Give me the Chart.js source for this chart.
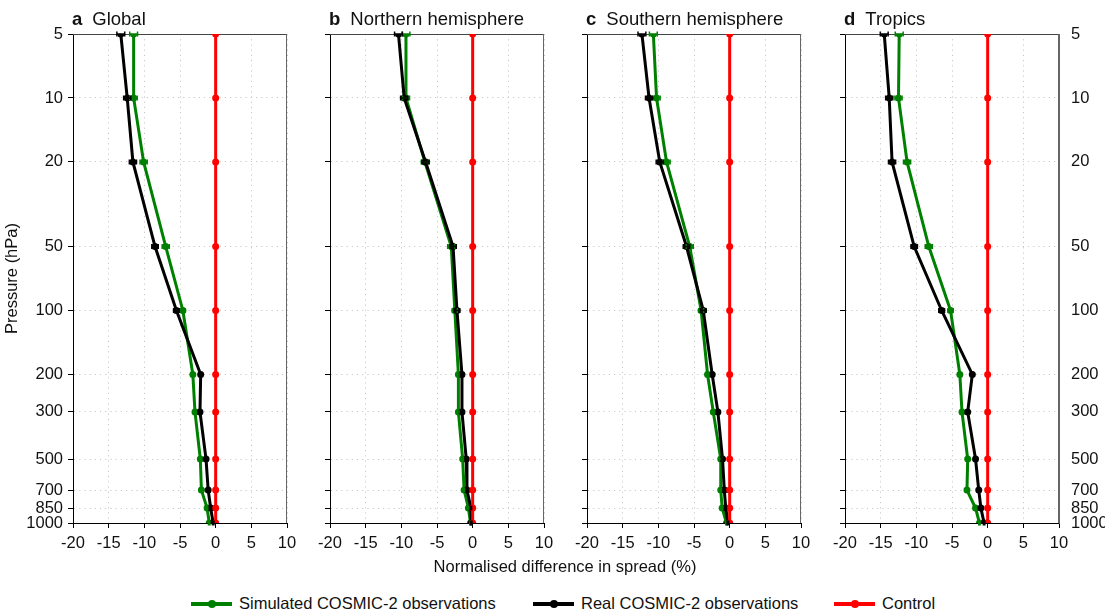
<!DOCTYPE html>
<html>
<head>
<meta charset="utf-8">
<script src="https://cdn.jsdelivr.net/npm/chart.js@4.4.0/dist/chart.umd.min.js"></script>
<style>
  body { margin: 0; background: #fff; }
  #fig { position: relative; width: 1105px; height: 611px; overflow: hidden;
         font-family: "Liberation Sans", Arial, Helvetica, sans-serif; color: #111; }
  #fig canvas { position: absolute; top: 0; }
  .ptitle { position: absolute; top: 9px; font-size: 18.5px; line-height: 19px; white-space: nowrap; }
  .ptitle b { margin-right: 10px; }
  #xtitle { position: absolute; top: 558px; left: 565px; transform: translateX(-50%);
            font-size: 16.5px; line-height: 17px; white-space: nowrap; }
  .leg { position: absolute; top: 595px; font-size: 16.5px; line-height: 17px; white-space: nowrap; }
  .leg .sw { display: inline-block; position: relative; width: 41px; height: 4px;
             vertical-align: middle; margin-right: 7px; top: -1px; }
  .leg .sw i { position: absolute; left: 17px; top: -2px; width: 8px; height: 8px; border-radius: 50%; }
</style>
</head>
<body>
<div id="fig"></div>
<script>
// pressure levels (hPa) and x ticks
var levels = [5, 10, 20, 50, 100, 200, 300, 500, 700, 850, 1000];
var xTicks = [-20, -15, -10, -5, 0, 5, 10];

var panelLetters = ['a', 'b', 'c', 'd'];
var panelNames = ['Global', 'Northern hemisphere', 'Southern hemisphere', 'Tropics'];
var seriesNames = ['Simulated COSMIC-2 observations', 'Real COSMIC-2 observations', 'Control'];

// normalised difference in spread (%), one value per level
var simGlobal   = [-11.5, -11.5, -10.1, -7.0, -4.6, -3.2, -2.9, -2.15, -2.0, -1.2, -0.9];
var realGlobal  = [-13.3, -12.4, -11.6, -8.5, -5.5, -2.1, -2.2, -1.35, -1.05, -0.7, -0.35];
var simNorth    = [-9.35, -9.35, -6.7, -3.0, -2.5, -2.0, -2.0, -1.4, -1.2, -0.6, -0.3];
var realNorth   = [-10.4, -9.6, -6.6, -2.75, -2.2, -1.5, -1.5, -0.9, -0.8, -0.25, -0.2];
var simSouth    = [-10.7, -10.25, -8.85, -5.6, -4.0, -3.1, -2.3, -1.25, -1.25, -1.05, -0.45];
var realSouth   = [-12.3, -11.3, -9.8, -6.05, -3.7, -2.45, -1.65, -1.0, -0.75, -0.55, -0.25];
var simTropics  = [-12.4, -12.5, -11.3, -8.25, -5.2, -3.9, -3.6, -2.8, -2.9, -1.7, -1.15];
var realTropics = [-14.5, -13.8, -13.4, -10.3, -6.45, -2.15, -2.8, -1.7, -1.25, -0.95, -0.5];
var control     = [0, 0, 0, 0, 0, 0, 0, 0, 0, 0, 0];

// half-width of the error whiskers
var simErr  = [0.55, 0.5, 0.5, 0.5, 0.35, 0.2, 0.2, 0.15, 0.1, 0.1, 0.1];
var realErr = [0.55, 0.5, 0.5, 0.45, 0.4, 0.2, 0.2, 0.15, 0.1, 0.1, 0.1];

var sims = [simGlobal, simNorth, simSouth, simTropics];
var reals = [realGlobal, realNorth, realSouth, realTropics];

var GREEN = '#008000', BLACK = '#000000', RED = '#ff0000';
var FONT = '"Liberation Sans", Arial, Helvetica, sans-serif';

// layout of the four panels
var plotLeft = [73, 330, 587, 845];
var plotW = 214, plotTop = 34, plotBottom = 523, canvasH = 565;

var fig = document.getElementById('fig');

var framePlugin = {
  id: 'frame',
  beforeDatasetsDraw: function (chart) {
    var a = chart.chartArea, ctx = chart.ctx;
    ctx.save();
    ctx.lineWidth = 1;
    ctx.strokeStyle = '#444';
    ctx.beginPath(); ctx.moveTo(a.left, a.top + 0.5); ctx.lineTo(a.right, a.top + 0.5); ctx.stroke();
    ctx.strokeStyle = '#666';
    ctx.beginPath(); ctx.moveTo(a.right - 0.5, a.top); ctx.lineTo(a.right - 0.5, a.bottom); ctx.stroke();
    ctx.restore();
  }
};

var errPlugin = {
  id: 'errbars',
  afterDatasetsDraw: function (chart) {
    var ctx = chart.ctx, xs = chart.scales.x, ys = chart.scales.y;
    chart.data.datasets.forEach(function (ds) {
      if (!ds.errs) return;
      ctx.save();
      ctx.strokeStyle = ds.borderColor;
      ctx.lineWidth = 1.5;
      ds.data.forEach(function (p, j) {
        var x1 = xs.getPixelForValue(p.x - ds.errs[j]);
        var x2 = xs.getPixelForValue(p.x + ds.errs[j]);
        var y = ys.getPixelForValue(p.y);
        ctx.beginPath();
        ctx.moveTo(x1, y); ctx.lineTo(x2, y);
        ctx.moveTo(x1, y - 2.5); ctx.lineTo(x1, y + 2.5);
        ctx.moveTo(x2, y - 2.5); ctx.lineTo(x2, y + 2.5);
        ctx.stroke();
      });
      ctx.restore();
    });
  }
};

function series(label, vals, errs, color, order) {
  return {
    label: label,
    data: vals.map(function (v, j) { return { x: v, y: levels[j] }; }),
    errs: errs,
    borderColor: color,
    backgroundColor: color,
    borderWidth: 3,
    pointRadius: 3.5,
    pointBorderWidth: 0,
    pointBackgroundColor: color,
    tension: 0,
    order: order
  };
}

function logTicks(s) { s.ticks = levels.map(function (v) { return { value: v }; }); }

for (var i = 0; i < 4; i++) {
  var leftW = i === 0 ? 73 : 30;
  var rightW = i === 3 ? 46 : 22;
  var cv = document.createElement('canvas');
  cv.width = leftW + plotW + rightW;
  cv.height = canvasH;
  cv.style.left = (plotLeft[i] - leftW) + 'px';
  fig.appendChild(cv);

  var t = document.createElement('div');
  t.className = 'ptitle';
  t.style.left = (plotLeft[i] - 1) + 'px';
  t.innerHTML = '<b>' + panelLetters[i] + '</b>' + panelNames[i];
  fig.appendChild(t);

  var scales = {
    x: {
      type: 'linear', min: -20, max: 10,
      afterBuildTicks: function (s) { s.ticks = xTicks.map(function (v) { return { value: v }; }); },
      afterFit: function (s) { s.height = canvasH - plotBottom; },
      grid: { color: '#c8c8c8', lineWidth: 1, tickLength: 5, tickColor: '#000' },
      border: { color: '#000', width: 1, dash: [1.2, 4] },
      ticks: { color: '#111', font: { family: FONT, size: 16.5 }, padding: 6, maxRotation: 0 }
    },
    y: {
      type: 'logarithmic', min: 5, max: 1000, reverse: true, position: 'left',
      afterBuildTicks: logTicks,
      afterFit: (function (w) { return function (s) { s.width = w; }; })(leftW),
      grid: { color: '#c8c8c8', lineWidth: 1, tickLength: 5, tickColor: '#000' },
      border: { color: '#000', width: 1, dash: [1.2, 4] },
      ticks: {
        color: '#111', font: { family: FONT, size: 16.5 }, padding: 5, autoSkip: false,
        callback: (function (show) { return function (v) { return show ? String(v) : ''; }; })(i === 0)
      },
      title: {
        display: i === 0, text: 'Pressure (hPa)', color: '#111',
        font: { family: FONT, size: 16.5 }, padding: { top: 3, bottom: 0 }
      }
    }
  };
  if (i === 3) {
    scales.y2 = {
      type: 'logarithmic', min: 5, max: 1000, reverse: true, position: 'right',
      afterBuildTicks: logTicks,
      afterFit: function (s) { s.width = 46; },
      grid: { display: false, drawOnChartArea: false },
      border: { color: '#666', width: 1 },
      ticks: { color: '#111', font: { family: FONT, size: 16.5 }, padding: 4, autoSkip: false,
               callback: function (v) { return String(v); } }
    };
  }

  new Chart(cv, {
    type: 'line',
    data: {
      datasets: [
        series(seriesNames[0], sims[i], simErr, GREEN, 3),
        series(seriesNames[1], reals[i], realErr, BLACK, 2),
        series(seriesNames[2], control, null, RED, 1)
      ]
    },
    options: {
      responsive: false,
      animation: false,
      indexAxis: 'y',
      layout: { padding: { top: plotTop, right: i === 3 ? 0 : rightW, left: 0, bottom: 0 } },
      plugins: { legend: { display: false }, tooltip: { enabled: false } },
      scales: scales
    },
    plugins: [framePlugin, errPlugin]
  });
}

var xt = document.createElement('div');
xt.id = 'xtitle';
xt.textContent = 'Normalised difference in spread (%)';
fig.appendChild(xt);

var legX = [191, 533, 834];
var legC = [GREEN, BLACK, RED];
for (var k = 0; k < 3; k++) {
  var d = document.createElement('div');
  d.className = 'leg';
  d.style.left = legX[k] + 'px';
  d.innerHTML = '<span class="sw" style="background:' + legC[k] + '"><i style="background:' + legC[k] + '"></i></span>' + seriesNames[k];
  fig.appendChild(d);
}
</script>
</body>
</html>
